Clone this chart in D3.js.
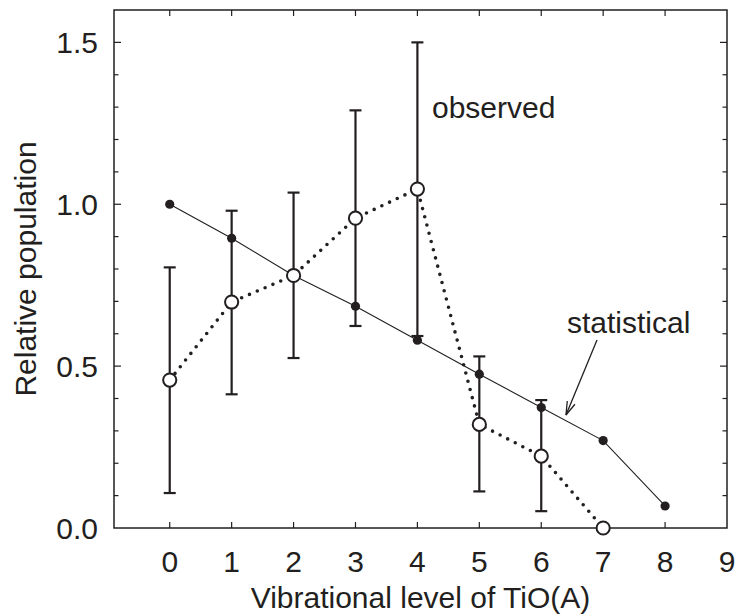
<!DOCTYPE html>
<html>
<head>
<meta charset="utf-8">
<script src="https://cdn.jsdelivr.net/npm/d3@7"></script>
<style>
  body { margin: 0; background: #fff; }
  text { font-family: "Liberation Sans", Arial, sans-serif; fill: #231f20; }
</style>
</head>
<body>
<svg width="742" height="614"></svg>
<script>
// vibrational levels
const levels = [0, 1, 2, 3, 4, 5, 6, 7, 8]
// statistical (filled dots, thin line)
const statistical = [1.0, 0.895, 0.78, 0.685, 0.58, 0.475, 0.372, 0.27, 0.068]
// observed (open circles, dotted line)
const obsLevels = [0, 1, 2, 3, 4, 5, 6, 7]
const observed = [0.457, 0.698, 0.78, 0.957, 1.047, 0.32, 0.222, 0.0]
const obsUpper = [0.805, 0.98, 1.036, 1.29, 1.5, 0.53, 0.395, null]
const obsLower = [0.108, 0.413, 0.525, 0.624, 0.593, 0.113, 0.052, null]
const xTicks = [0, 1, 2, 3, 4, 5, 6, 7, 8, 9]
const yMajor = [0, 0.5, 1.0, 1.5]
const yMinor = d3.range(0, 16).map(d => d / 10)

const ink = "#231f20"
const svg = d3.select("svg")
const pLeft = 114, pRight = 727, pTop = 10, pBottom = 528

const x = d3.scaleLinear().domain([-0.9, 9]).range([pLeft, pRight])
const y = d3.scaleLinear().domain([0, 1.6]).range([pBottom, pTop])

const g = svg.append("g")

// frame
g.append("rect")
  .attr("x", pLeft).attr("y", pTop)
  .attr("width", pRight - pLeft).attr("height", pBottom - pTop)
  .attr("fill", "none").attr("stroke", ink).attr("stroke-width", 1.5)

// x ticks, inside, top and bottom
const xt = xTicks.filter(d => d < 9)
g.selectAll(".xtb").data(xt).enter().append("line")
  .attr("x1", d => x(d)).attr("x2", d => x(d))
  .attr("y1", pBottom).attr("y2", pBottom - 6)
  .attr("stroke", ink).attr("stroke-width", 1.2)
g.selectAll(".xtt").data(xt).enter().append("line")
  .attr("x1", d => x(d)).attr("x2", d => x(d))
  .attr("y1", pTop).attr("y2", pTop + 6)
  .attr("stroke", ink).attr("stroke-width", 1.2)

// y ticks, inside, left and right
const isMajor = d => yMajor.some(m => Math.abs(m - d) < 1e-9)
;[[pLeft, 1], [pRight, -1]].forEach(([x0, dir]) => {
  g.selectAll(null).data(yMinor.filter(d => d > 0)).enter().append("line")
    .attr("x1", x0).attr("x2", d => x0 + dir * (isMajor(d) ? 7 : 4.5))
    .attr("y1", d => y(d)).attr("y2", d => y(d))
    .attr("stroke", ink).attr("stroke-width", 1.2)
})

// tick labels
g.selectAll(".xl").data(xTicks).enter().append("text")
  .attr("x", d => x(d)).attr("y", 572)
  .attr("text-anchor", "middle").attr("font-size", 30)
  .text(d => d)
g.selectAll(".yl").data(yMajor).enter().append("text")
  .attr("x", 98).attr("y", d => y(d) + 11)
  .attr("text-anchor", "end").attr("font-size", 30)
  .text(d => d.toFixed(1))

// axis titles
svg.append("text")
  .attr("x", (pLeft + pRight) / 2).attr("y", 608)
  .attr("text-anchor", "middle").attr("font-size", 30)
  .text("Vibrational level of TiO(A)")
svg.append("text")
  .attr("transform", `translate(36,${(pTop + pBottom) / 2}) rotate(-90)`)
  .attr("text-anchor", "middle").attr("font-size", 30)
  .text("Relative population")

// error bars
const bars = obsLevels.map((l, i) => ({ l, hi: obsUpper[i], lo: obsLower[i] }))
  .filter(d => d.hi != null)
const eb = g.append("g").attr("stroke", ink).attr("stroke-width", 2.2)
eb.selectAll(".v").data(bars).enter().append("line")
  .attr("x1", d => x(d.l)).attr("x2", d => x(d.l))
  .attr("y1", d => y(d.hi)).attr("y2", d => y(d.lo))
eb.selectAll(".h").data(bars).enter().append("line")
  .attr("x1", d => x(d.l) - 6).attr("x2", d => x(d.l) + 6)
  .attr("y1", d => y(d.hi)).attr("y2", d => y(d.hi))
eb.selectAll(".l").data(bars).enter().append("line")
  .attr("x1", d => x(d.l) - 6).attr("x2", d => x(d.l) + 6)
  .attr("y1", d => y(d.lo)).attr("y2", d => y(d.lo))

// statistical line
const statPts = levels.map((l, i) => [l, statistical[i]])
g.append("path")
  .attr("d", d3.line().x(d => x(d[0])).y(d => y(d[1]))(statPts))
  .attr("fill", "none").attr("stroke", ink).attr("stroke-width", 1.1)

// observed dotted line
const obsPts = obsLevels.map((l, i) => [l, observed[i]])
g.append("path")
  .attr("d", d3.line().x(d => x(d[0])).y(d => y(d[1]))(obsPts))
  .attr("fill", "none").attr("stroke", ink).attr("stroke-width", 3.6)
  .attr("stroke-linecap", "round").attr("stroke-dasharray", "0 8.5")

g.selectAll(".sd").data(statPts).enter().append("circle")
  .attr("cx", d => x(d[0])).attr("cy", d => y(d[1])).attr("r", 4.6)
  .attr("fill", ink)

g.selectAll(".od").data(obsPts).enter().append("circle")
  .attr("cx", d => x(d[0])).attr("cy", d => y(d[1])).attr("r", 6.6)
  .attr("fill", "#fff").attr("stroke", ink).attr("stroke-width", 2)

// annotations
svg.append("text").attr("x", 432).attr("y", 118).attr("font-size", 30).text("observed")
svg.append("text").attr("x", 567).attr("y", 333).attr("font-size", 30).text("statistical")

// arrow
const ax0 = 597, ay0 = 340, ax1 = 566, ay1 = 415
svg.append("line").attr("x1", ax0).attr("y1", ay0).attr("x2", ax1).attr("y2", ay1)
  .attr("stroke", ink).attr("stroke-width", 1.3)
const ang = Math.atan2(ay1 - ay0, ax1 - ax0)
;[0.3, -0.3].forEach(da => {
  svg.append("line")
    .attr("x1", ax1).attr("y1", ay1)
    .attr("x2", ax1 - 14 * Math.cos(ang + da)).attr("y2", ay1 - 14 * Math.sin(ang + da))
    .attr("stroke", ink).attr("stroke-width", 1.3)
})
</script>
</body>
</html>
